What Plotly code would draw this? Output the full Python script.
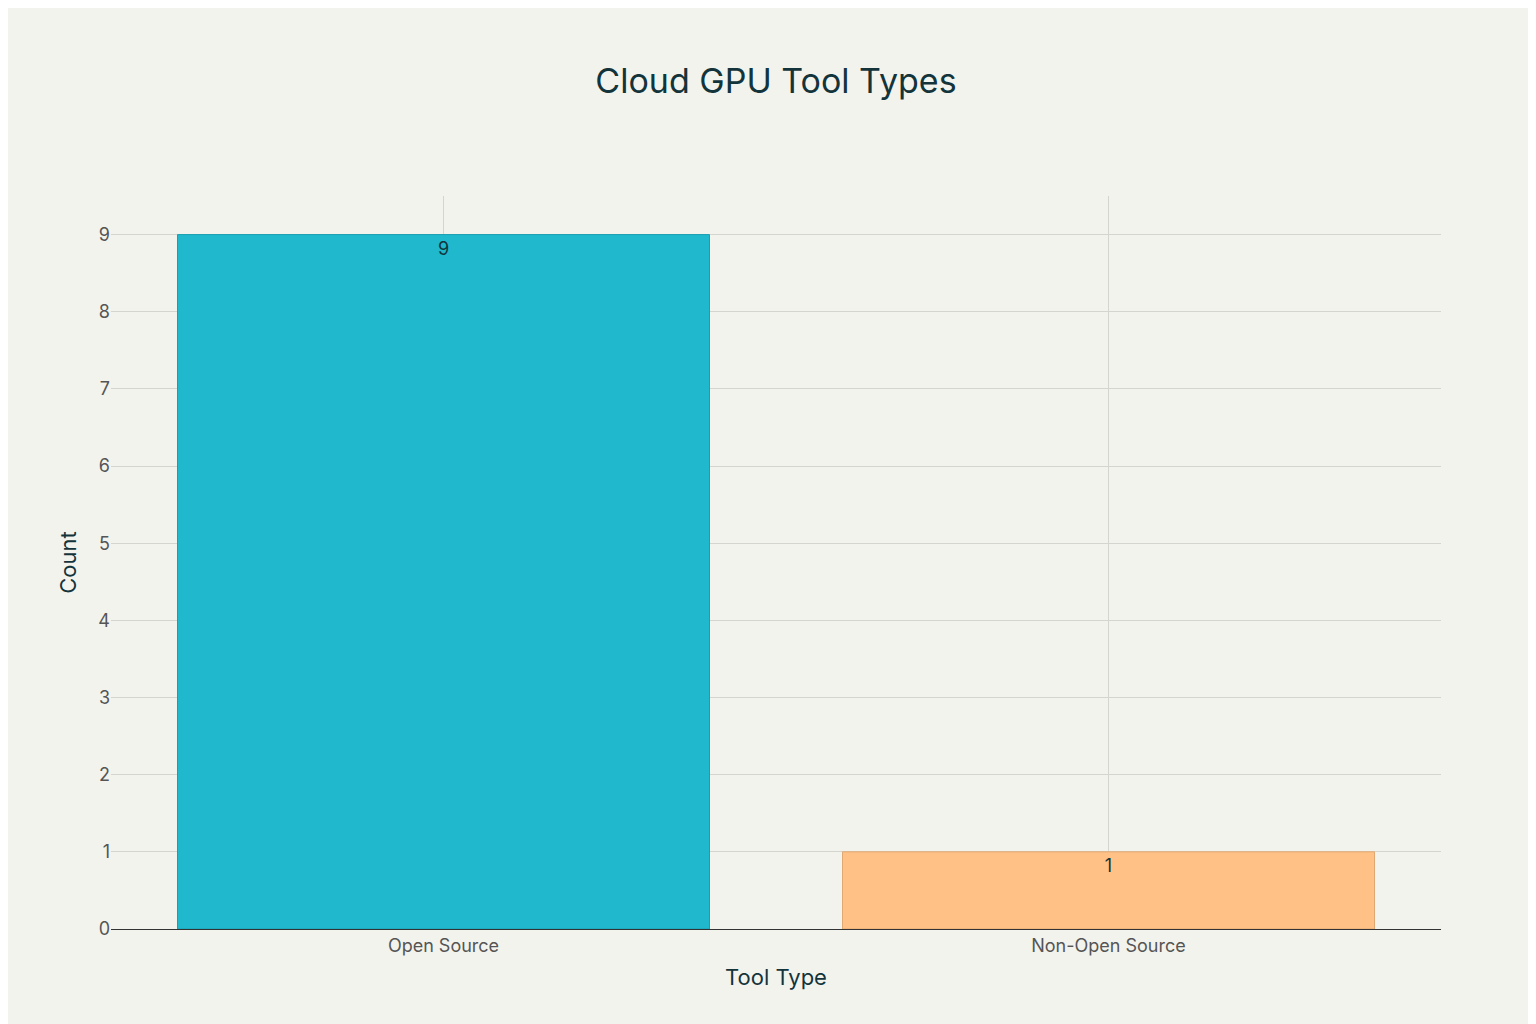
import plotly.graph_objects as go

# Datos del gráfico
tipos_herramienta = ['Open Source', 'Non-Open Source']
conteos = [9, 1]
colores = ['#1FB8CD', '#FFC185']

fig = go.Figure()

fig.add_trace(go.Bar(
    x=tipos_herramienta,
    y=conteos,
    text=conteos,
    textposition='inside',
    insidetextanchor='end',
    textfont=dict(size=18, color='#13343B'),
    marker=dict(color=colores, line=dict(color=['#1a9fb0', '#e0a872'], width=1)),
    width=0.8,
    showlegend=False,
))

fig.update_layout(
    title=dict(text='Cloud GPU Tool Types', x=0.5, y=0.94,
               font=dict(size=34, color='#13343B', family='Inter')),
    font=dict(family='Inter', size=18, color='#13343B'),
    paper_bgcolor='#F3F3EE',
    plot_bgcolor='#F3F3EE',
    width=1536,
    height=1024,
    margin=dict(l=103, r=103, t=188, b=103),
    xaxis=dict(title=dict(text='Tool Type', font=dict(size=22)),
               showgrid=True, gridcolor='#D5D5D0',
               tickfont=dict(size=18, color='#555'),
               showline=True, linecolor='#333'),
    yaxis=dict(title=dict(text='Count', font=dict(size=22)),
               range=[0, 9.5], dtick=1, showgrid=True, gridcolor='#D5D5D0',
               tickfont=dict(size=18, color='#555'), zeroline=False),
)

fig.write_html("out.html")
